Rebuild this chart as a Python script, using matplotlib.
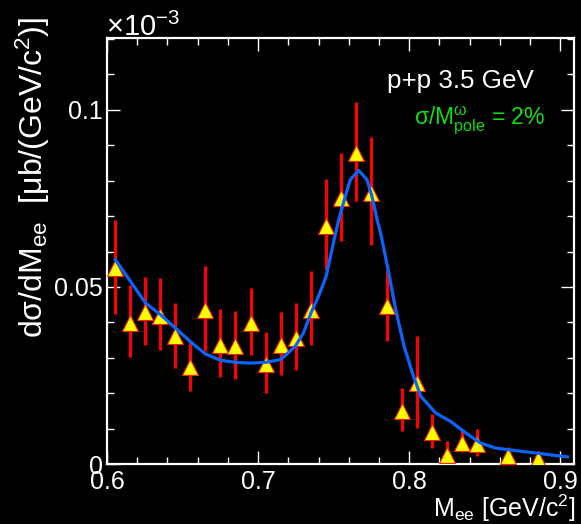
import matplotlib
matplotlib.use('Agg')
import matplotlib.pyplot as plt
from matplotlib.ticker import MultipleLocator, FixedLocator

plt.rcParams['font.family'] = ['Liberation Sans', 'DejaVu Sans']
plt.rcParams['mathtext.fontset'] = 'custom'
plt.rcParams['mathtext.rm'] = 'Liberation Sans'
plt.rcParams['mathtext.it'] = 'Liberation Sans:italic'
plt.rcParams['mathtext.bf'] = 'Liberation Sans:bold'

# data points (values in units of 1e-3 ub/(GeV/c^2))
mass = [0.605, 0.615, 0.625, 0.635, 0.645, 0.655, 0.665, 0.675, 0.685, 0.695,
        0.705, 0.715, 0.725, 0.735, 0.745, 0.755, 0.765, 0.775, 0.785, 0.795,
        0.805, 0.815, 0.825, 0.835, 0.845, 0.865, 0.885]
xsec = [0.0554, 0.0398, 0.0429, 0.0419, 0.0361, 0.0273, 0.0434, 0.0337, 0.0332, 0.0398,
        0.0282, 0.0337, 0.0356, 0.0436, 0.0673, 0.0751, 0.0877, 0.0766, 0.0445, 0.0151,
        0.0229, 0.0090, 0.0026, 0.0059, 0.0057, 0.0022, 0.0013]
err_low = [0.0425, 0.0301, 0.0335, 0.0323, 0.0271, 0.0207, 0.0318, 0.0247, 0.0240, 0.0307,
           0.0201, 0.0252, 0.0266, 0.0335, 0.0547, 0.0629, 0.0742, 0.0618, 0.0346, 0.0094,
           0.0101, 0.0045, 0.0000, 0.0033, 0.0023, 0.0000, 0.0000]
err_high = [0.0688, 0.0505, 0.0528, 0.0524, 0.0455, 0.0346, 0.0560, 0.0438, 0.0433, 0.0498,
            0.0373, 0.0428, 0.0455, 0.0546, 0.0806, 0.0878, 0.1021, 0.0924, 0.0549, 0.0215,
            0.0362, 0.0142, 0.0064, 0.0097, 0.0099, 0.0049, 0.0036]

# model curve
curve_m = [0.6055, 0.6155, 0.6254, 0.6353, 0.6452, 0.655, 0.665, 0.675, 0.685, 0.695,
           0.705, 0.715, 0.7245, 0.730, 0.735, 0.740, 0.745, 0.7498, 0.7533, 0.7577,
           0.761, 0.7665, 0.772, 0.7753, 0.7787, 0.781, 0.786, 0.791, 0.7966, 0.8021,
           0.8076, 0.8175, 0.8274, 0.8373, 0.8472, 0.8571, 0.8681, 0.8836, 0.9046]
curve_v = [0.0577, 0.0516, 0.0455, 0.0422, 0.0384, 0.0346, 0.0311, 0.0293, 0.0287, 0.0285,
           0.0287, 0.0295, 0.0332, 0.0370, 0.0427, 0.0474, 0.0530, 0.0624, 0.0690, 0.0756,
           0.0803, 0.0829, 0.0803, 0.0756, 0.0690, 0.0653, 0.0549, 0.0436, 0.0332, 0.0257,
           0.0191, 0.0144, 0.0120, 0.0088, 0.0059, 0.0045, 0.0039, 0.0031, 0.0020]

W, H = 581, 524
fig = plt.figure(figsize=(W / 100, H / 100), dpi=100, facecolor='black')
ax = fig.add_axes([107 / W, (H - 464) / H, 467 / W, 426 / H], facecolor='black')

yerr = [[v - lo for v, lo in zip(xsec, err_low)], [hi - v for v, hi in zip(xsec, err_high)]]
ax.errorbar(mass, xsec, yerr=yerr, fmt='none', ecolor='#ff0000', elinewidth=2.3,
            capsize=0, zorder=2)
ax.plot(mass, xsec, linestyle='none', marker='^', markersize=11,
        markerfacecolor='#ffff00', markeredgecolor='#ff2000', markeredgewidth=0.8, zorder=3)
ax.plot(curve_m, curve_v, color='#0a64ff', linewidth=2.3, zorder=4,
        solid_joinstyle='round')

ax.set_xlim(0.6, 0.909)
ax.set_ylim(0.0, 0.1203)

ax.xaxis.set_major_locator(FixedLocator([0.6, 0.7, 0.8, 0.9]))
ax.xaxis.set_minor_locator(MultipleLocator(0.02))
ax.yaxis.set_major_locator(FixedLocator([0.0, 0.05, 0.1]))
ax.yaxis.set_minor_locator(MultipleLocator(0.01))
ax.set_xticklabels(['0.6', '0.7', '0.8', '0.9'])
ax.set_yticklabels(['0', '0.05', '0.1'])

ax.tick_params(which='both', direction='in', top=True, right=True, colors='white',
               labelcolor='white', labelsize=18, width=1.0)
ax.tick_params(which='major', length=9.5)
ax.tick_params(which='minor', length=5)
ax.tick_params(axis='x', pad=4)
ax.tick_params(axis='y', pad=3)
for s in ax.spines.values():
    s.set_color('white')
    s.set_linewidth(1.6)

fig.text(575 / W, 1 - 517 / H, r'M$_{\mathrm{ee}}$ [GeV/c$^{2}$]', color='white',
         fontsize=18, ha='right', va='baseline')
fig.text(33 / W, 1 - 177 / H, r'd$\mathrm{\sigma}$/dM$_{\mathrm{ee}}$  [$\mathrm{\mu}$b/(GeV/c$^{2}$)]',
         color='white', fontsize=23, rotation=90, ha='center', va='center')
fig.text(106 / W, 1 - 36 / H, r'$\times$10$^{-3}$', color='white', fontsize=21,
         ha='left', va='baseline')
fig.text(387 / W, 1 - 88 / H, 'p+p 3.5 GeV', color='white', fontsize=18.7,
         ha='left', va='baseline')
fig.text(414 / W, 1 - 124 / H, 'σ/M$^{\\mathrm{\\omega}}_{\\mathrm{pole}}$ = 2%', color='#11dd11',
         fontsize=16.5, ha='left', va='baseline')

fig.savefig('out.png', dpi=100, facecolor='black')
